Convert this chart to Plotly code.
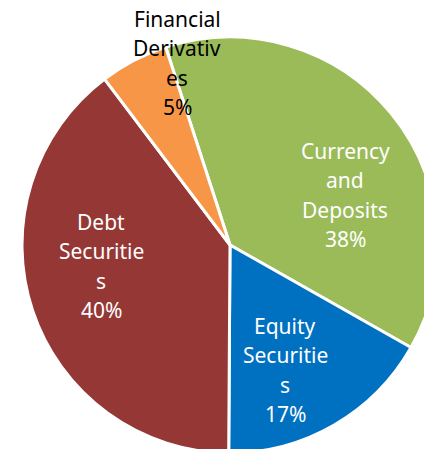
import plotly.graph_objects as go

# Data (percent shares)
categories = ["Currency and Deposits", "Equity Securities", "Debt Securities", "Financial Derivatives"]
values = [38.2, 16.9, 39.6, 5.3]
label_words = [
    ["Currency", "and", "Deposits"],
    ["Equity", "Securitie", "s"],
    ["Debt", "Securitie", "s"],
    ["Financial", "Derivativ", "es"],
]

# Styles / layout
colors = ["#9BBB59", "#0070C0", "#953735", "#F79646"]
text_colors = ["white", "white", "white", "black"]
# label block centres in pixels (x, y of first line) and line spacing
label_pos = [(345, 151), (285, 326), (101, 222), (177, 19)]
line_gap = 29.3

W, H = 438, 453
L, T = 22, 37
S = 416  # plot area size

fig = go.Figure(go.Pie(
    labels=categories,
    values=values,
    sort=False,
    direction="clockwise",
    rotation=-18,
    marker=dict(colors=colors, line=dict(color="white", width=3)),
    textinfo="none",
    hoverinfo="label+percent",
    showlegend=False,
))

annotations = []
for words, v, (px, py), tc in zip(label_words, values, label_pos, text_colors):
    lines = words + [f"{round(v)}%"]
    for i, ln in enumerate(lines):
        yy = py + i * line_gap
        annotations.append(dict(
            x=(px - L) / S, y=1 - (yy - T) / S,
            xref="paper", yref="paper",
            text=ln, showarrow=False,
            xanchor="center", yanchor="middle",
            font=dict(family="Noto Sans", size=21, color=tc),
        ))

fig.update_layout(
    width=W, height=H,
    margin=dict(l=L, r=W - L - S, t=T, b=H - T - S, pad=0),
    paper_bgcolor="white",
    plot_bgcolor="white",
    annotations=annotations,
)

fig.write_html(
    "out.html",
    config={"displayModeBar": False},
    post_script="document.body.style.margin='0';document.body.style.overflow='hidden';document.documentElement.style.overflow='hidden';",
)
